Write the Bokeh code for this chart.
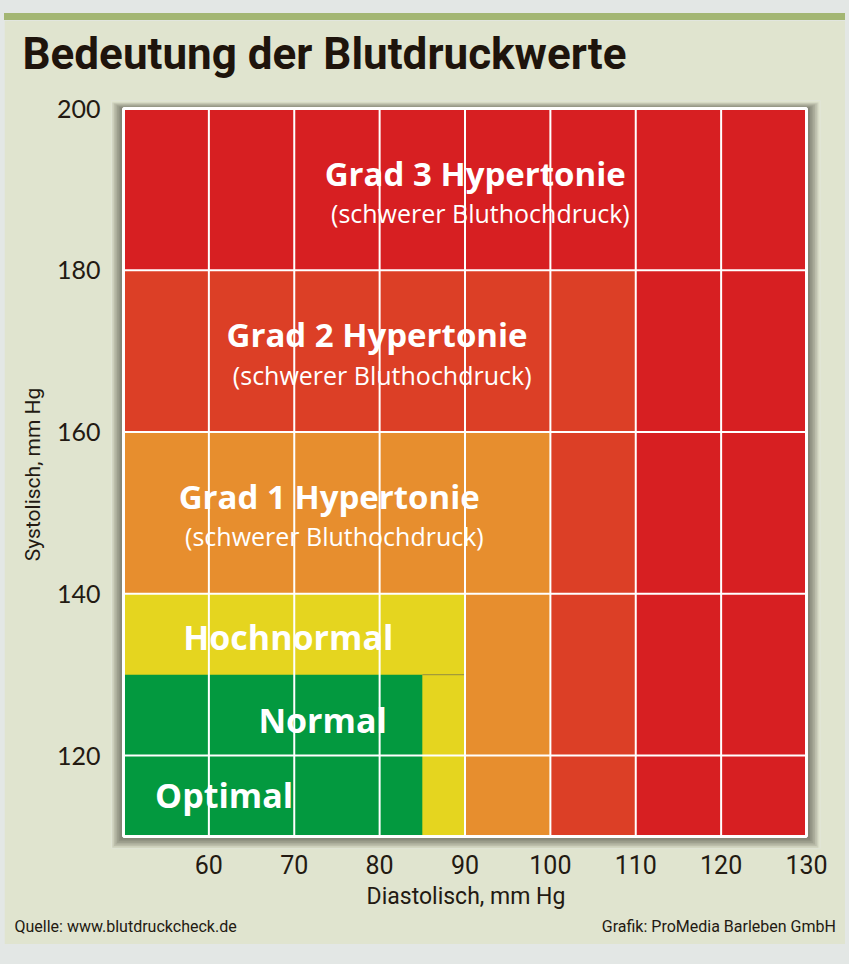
from bokeh.plotting import figure
from bokeh.models import ColumnDataSource, FixedTicker, Title
from bokeh.layouts import column
from bokeh.core.properties import value
from bokeh.embed import file_html
from bokeh.resources import INLINE

# ---- data ----
zones = ["Grad 3 Hypertonie", "Grad 2 Hypertonie", "Grad 1 Hypertonie", "Hochnormal", "Normal", "Optimal"]
dia_min = [50, 50, 50, 50, 50, 50]
dia_max = [130, 110, 100, 90, 85, 80]
sys_min = [110, 110, 110, 110, 110, 110]
sys_max = [200, 180, 160, 140, 130, 120]
zone_colors = ["#d71f22", "#dc3f26", "#e78e2e", "#e5d51f", "#03993f", "#03993f"]

x_ticks = [60, 70, 80, 90, 100, 110, 120, 130]
y_ticks = [120, 140, 160, 180, 200]

big_labels = ["Grad 3 Hypertonie", "Grad 2 Hypertonie", "Grad 1 Hypertonie"]
big_x = [91.2, 79.7, 74.1]
big_y = [192.0, 172.1, 152.0]
sub_labels = ["(schwerer Bluthochdruck)"] * 3
sub_y = [187.1, 167.1, 147.1]

small_labels = ["Hochnormal", "Normal", "Optimal"]
small_x = [57.0, 65.8, 53.7]
small_y = [134.7, 124.4, 115.1]

title_text = "Bedeutung der Blutdruckwerte"
x_label = "Diastolisch, mm Hg"
y_label = "Systolisch, mm Hg"
source_text = "Quelle: www.blutdruckcheck.de"
credit_text = "Grafik: ProMedia Barleben GmbH"

X0, X1 = min(dia_min), max(dia_max)
Y0, Y1 = min(sys_min), max(sys_max)

# ---- geometry ----
PW, PH = 841, 924
# chart area inside figure: left 119, right 39, top 88, bottom 108 ; plus shadow margin
ML, MR, MT, MB = 12, 14, 8, 12
CL, CR, CT, CB = 119, 39, 88, 108
cw = PW - CL - CR
ch = PH - CT - CB
ux = (X1 - X0) / cw
uy = (Y1 - Y0) / ch

p = figure(width=PW, height=PH,
           x_range=(X0 - ML * ux, X1 + MR * ux), y_range=(Y0 - MB * uy, Y1 + MT * uy),
           output_backend="svg", toolbar_location=None,
           min_border_left=CL - ML, min_border_right=CR - MR,
           min_border_top=CT - MT, min_border_bottom=CB - MB)
p.border_fill_color = "#e0e4cf"
p.background_fill_color = "#e0e4cf"
p.outline_line_color = None
p.grid.visible = False

# soft shadow around the chart
for k in range(7, 0, -1):
    p.quad(left=[X0 - (k * 1.6) * ux], right=[X1 + (k * 1.7) * ux],
           bottom=[Y0 - (k * 1.6) * uy], top=[Y1 + (k * 1.0 - 1) * uy],
           fill_color="#2b2b1c", fill_alpha=0.10, line_color=None)

src = ColumnDataSource(dict(left=dia_min, right=dia_max, bottom=sys_min, top=sys_max,
                            color=zone_colors, name=zones))
p.quad(left="left", right="right", bottom="bottom", top="top", color="color",
       line_color=None, source=src)

# thin divider line
p.segment(x0=[85], y0=[130], x1=[90], y1=[130], line_color="#a39b3a", line_width=1.2)

# white grid lines
gx = x_ticks[:-1]
gy = y_ticks[:-1]
p.segment(x0=gx, y0=[Y0] * len(gx), x1=gx, y1=[Y1] * len(gx), line_color="white", line_width=2)
p.segment(x0=[X0] * len(gy), y0=gy, x1=[X1] * len(gy), y1=gy, line_color="white", line_width=2)
# white border
p.quad(left=[X0], right=[X1], bottom=[Y0], top=[Y1], fill_color=None,
       line_color="white", line_width=3)

# axes
p.xaxis.ticker = FixedTicker(ticks=x_ticks)
p.yaxis.ticker = FixedTicker(ticks=y_ticks)
for ax in (p.xaxis, p.yaxis):
    ax.axis_line_color = None
    ax.major_tick_line_color = None
    ax.minor_tick_line_color = None
    ax.major_label_text_color = "#231a12"
    ax.axis_label_text_color = "#231a12"
    ax.axis_label_text_font = "Roboto"
    ax.axis_label_text_font_style = "normal"
p.xaxis.major_label_text_font = "Roboto"
p.xaxis.major_label_text_font_size = "25px"
p.xaxis.major_label_standoff = 0
p.yaxis.major_label_text_font = "Lato"
p.yaxis.major_label_text_font_size = "25px"
p.yaxis.major_label_standoff = 5
p.xaxis.axis_label = x_label
p.xaxis.axis_label_text_font_size = "23px"
p.xaxis.axis_label_standoff = 6
p.yaxis.axis_label = y_label
p.yaxis.axis_label_text_font_size = "21px"
p.yaxis.axis_label_standoff = 9

# zone labels
p.text(x=big_x, y=big_y, text=big_labels, text_color="white", text_font=value("Open Sans"),
       text_font_style="bold", text_font_size="33px", text_align="center", text_baseline="middle")
p.text(x=[b + 0.6 for b in big_x], y=sub_y, text=sub_labels, text_color="white",
       text_font=value("Open Sans"), text_font_size="25px", text_align="center", text_baseline="middle")
p.text(x=small_x, y=small_y, text=small_labels, text_color="white", text_font=value("Open Sans"),
       text_font_style="bold", text_font_size="34px", text_align="left", text_baseline="middle")

# title (outermost) with a near-empty spacer title between it and the chart
p.title.text = title_text
p.title.text_font = "Roboto"
p.title.text_font_size = "44px"
p.title.text_font_style = "bold"
p.title.text_color = "#1e140c"
p.title.align = "left"
p.title.offset = -(CL - ML - 18)
p.title.standoff = 0
spacer = Title(text="\u00a0", text_font_size="1px", standoff=18)
p.add_layout(spacer, "above")

# footer line
gap = "\u00a0" * 92
foot = Title(text=source_text + gap + credit_text, align="left", offset=-(CL - ML - 10),
             text_font="Roboto", text_font_size="16px", text_font_style="normal",
             text_color="#231a12", standoff=4)
p.add_layout(foot, "below")

inner = column(p, spacing=0, styles={"border-top": "7px solid #a3b673"})
layout = column(inner, spacing=0,
                styles={"background-color": "#e3e7e5", "padding": "13px 4px 20px 4px"})

open("out.html", "w").write(file_html(layout, INLINE))
